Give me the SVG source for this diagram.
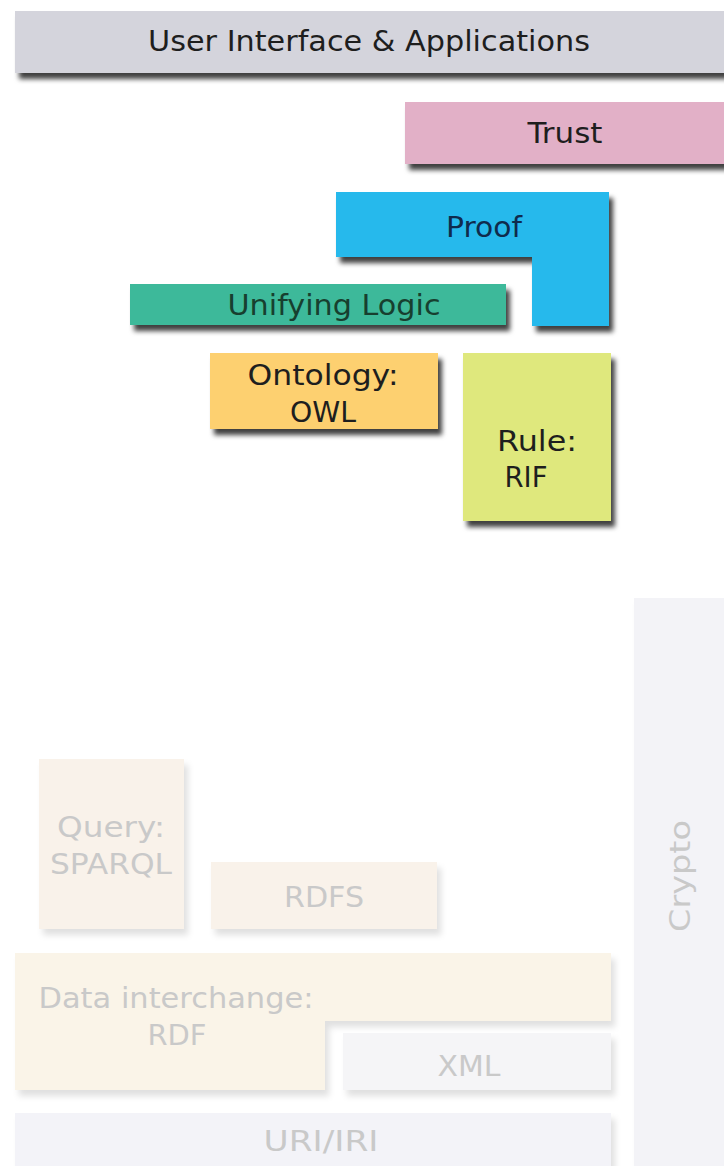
<svg xmlns="http://www.w3.org/2000/svg" width="724" height="1166" viewBox="0 0 724 1166">
<defs>
<filter id="sh" x="-10%" y="-20%" width="130%" height="160%"><feDropShadow dx="4" dy="6" stdDeviation="2.5" flood-color="#000" flood-opacity="0.75"/></filter>
<filter id="shl" x="-10%" y="-20%" width="130%" height="160%"><feDropShadow dx="4" dy="6" stdDeviation="3" flood-color="#000" flood-opacity="0.12"/></filter>
</defs>
<style>
text{font-family:"DejaVu Sans","Liberation Sans",sans-serif;font-size:29px;text-anchor:middle}
.d{fill:#1e1e1e}
.f{fill:#c9c9c9}
</style>
<rect width="724" height="1166" fill="#fff"/>
<g id="ui"><rect x="15" y="11" width="715" height="62" fill="#d4d4dc" filter="url(#sh)"/><text class="d" x="369" y="51" textLength="442" lengthAdjust="spacingAndGlyphs">User Interface &amp; Applications</text></g>
<g id="trust"><rect x="405" y="102" width="325" height="62" fill="#e2b0c7" filter="url(#sh)"/><text class="d" x="565" y="143" textLength="75" lengthAdjust="spacingAndGlyphs">Trust</text></g>
<g id="proof"><path d="M336 192H609V326H532V257H336Z" fill="#27b9ec" filter="url(#sh)"/><text x="484" y="237" fill="#0f2b4d" textLength="76" lengthAdjust="spacingAndGlyphs">Proof</text></g>
<g id="logic"><rect x="130" y="284" width="376" height="41" fill="#3cb99a" filter="url(#sh)"/><text x="334" y="315" fill="#173f2f" textLength="213" lengthAdjust="spacingAndGlyphs">Unifying Logic</text></g>
<g id="owl"><rect x="210" y="353" width="228" height="76" fill="#fdd06f" filter="url(#sh)"/><text class="d" x="323" y="385" textLength="151" lengthAdjust="spacingAndGlyphs">Ontology:</text><text class="d" x="323" y="422" textLength="66" lengthAdjust="spacingAndGlyphs">OWL</text></g>
<g id="rif"><rect x="463" y="353" width="148" height="168" fill="#dfe87d" filter="url(#sh)"/><text class="d" x="537" y="451" textLength="80" lengthAdjust="spacingAndGlyphs">Rule:</text><text class="d" x="526" y="487" textLength="43" lengthAdjust="spacingAndGlyphs">RIF</text></g>
<g id="crypto"><rect x="634" y="598" width="96" height="575" fill="#f3f3f7" filter="url(#shl)"/><text class="f" transform="translate(690 876) rotate(-90)" textLength="112" lengthAdjust="spacingAndGlyphs">Crypto</text></g>
<g id="sparql"><rect x="39" y="759" width="145" height="170" fill="#f9f2ea" filter="url(#shl)"/><text class="f" x="111" y="837" textLength="108" lengthAdjust="spacingAndGlyphs">Query:</text><text class="f" x="111" y="874" textLength="122" lengthAdjust="spacingAndGlyphs">SPARQL</text></g>
<g id="rdfs"><rect x="211" y="862" width="226" height="67" fill="#f9f2ea" filter="url(#shl)"/><text class="f" x="324" y="907" textLength="80" lengthAdjust="spacingAndGlyphs">RDFS</text></g>
<g id="rdf"><path d="M15 953H611V1021H325V1090H15Z" fill="#faf4e8" filter="url(#shl)"/><text class="f" x="176" y="1008" textLength="275" lengthAdjust="spacingAndGlyphs">Data interchange:</text><text class="f" x="177" y="1045" textLength="59" lengthAdjust="spacingAndGlyphs">RDF</text></g>
<g id="xml"><rect x="343" y="1033" width="268" height="57" fill="#f5f5f7" filter="url(#shl)"/><text class="f" x="469" y="1076" textLength="63" lengthAdjust="spacingAndGlyphs">XML</text></g>
<g id="uri"><rect x="15" y="1113" width="596" height="60" fill="#f3f3f8" filter="url(#shl)"/><text class="f" x="321" y="1151" textLength="115" lengthAdjust="spacingAndGlyphs">URI/IRI</text></g>
<g id="connectors"/>
</svg>
